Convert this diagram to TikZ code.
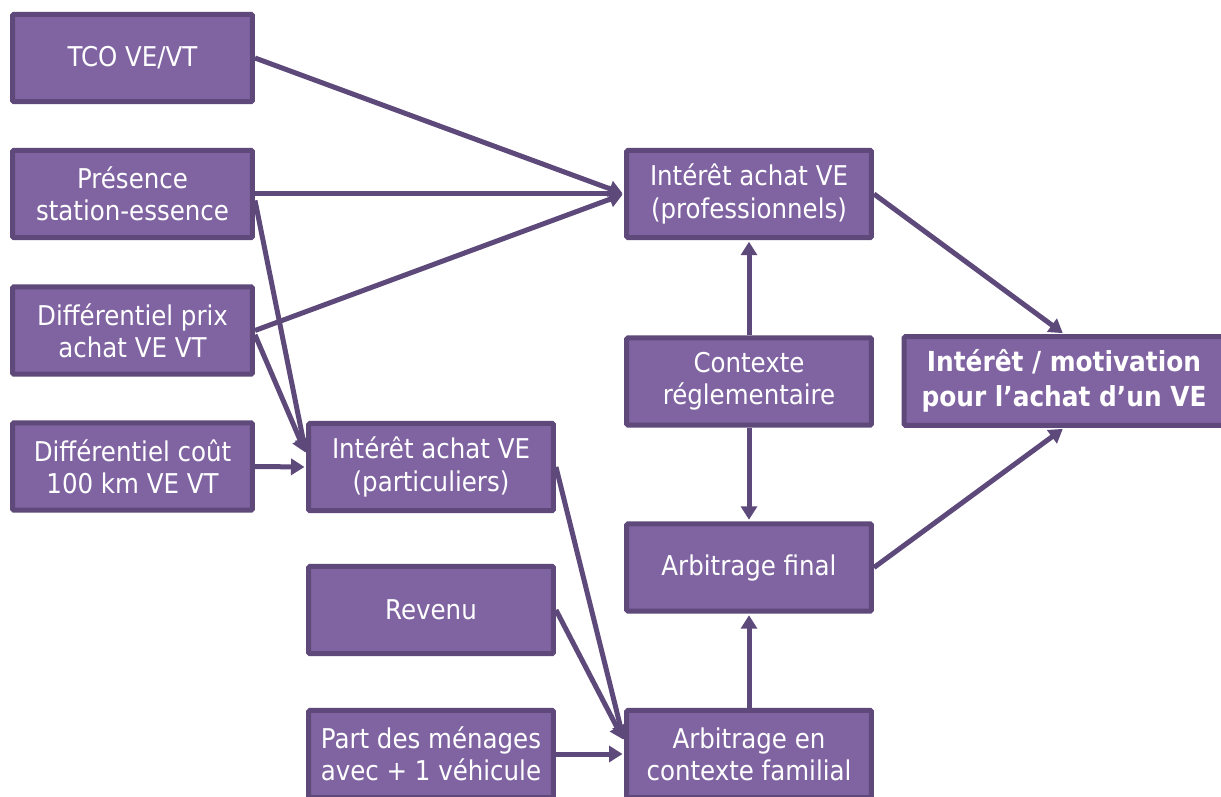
\documentclass[tikz,border=0pt]{standalone}
\usepackage{fontspec}
\setmainfont{DejaVu Sans Condensed}
\usetikzlibrary{arrows.meta}
\definecolor{fillc}{HTML}{8064A2}
\definecolor{bordc}{HTML}{5F497A}
\definecolor{linec}{HTML}{5E497B}
\tikzset{
  box/.style={draw=bordc, fill=fillc, line width=0.1cm, rounded corners=0.03cm,
    minimum width=4.8cm, minimum height=1.75cm, inner sep=0pt, align=center,
    text=white, font=\fontsize{15.5}{18.3}\selectfont},
  wbox/.style={box, minimum width=4.9cm},
  bigbox/.style={box, minimum width=6.4cm, minimum height=1.78cm,
    font=\fontsize{15.7}{20}\selectfont\bfseries},
  arr/.style={draw=linec, line width=0.1cm, shorten >=0.03cm,
    -{Triangle[length=0.27cm,width=0.32cm]}}
}
\begin{document}
\begin{tikzpicture}[x=0.02cm,y=-0.02cm]
\clip (0,0) rectangle (1221,797);
\fill[white] (0,0) rectangle (1221,797);
% left column
\node[box] (tco) at (132.5,58) {TCO VE/VT};
\node[box] (pres) at (132.5,194) {Présence\\station-essence};
\node[box] (prix) at (132.5,330.5) {Différentiel prix\\achat VE VT};
\node[box] (cout) at (132.5,466.5) {Différentiel coût\\100 km VE VT};
% middle column
\node[wbox] (part) at (431,467) {Intérêt achat VE\\(particuliers)};
\node[wbox] (rev) at (431,610) {Revenu};
\node[wbox] (men) at (431,754) {Part des ménages\\avec + 1 véhicule};
% right column
\node[wbox] (pro) at (749,194) {Intérêt achat VE\\(professionnels)};
\node[wbox] (ctx) at (749,381.5) {Contexte\\réglementaire};
\node[wbox] (fin) at (749,567.5) {Arbitrage final};
\node[wbox] (fam) at (749,754) {Arbitrage en\\contexte familial};
% final
\node[bigbox] (mot) at (1064,381) {Intérêt / motivation\\pour l’achat d’un VE};
% connectors
\draw[arr] (tco.east) -- (pro.west);
\draw[arr] (pres.east) -- (pro.west);
\draw[arr] (prix.east) -- (pro.west);
\draw[arr] (pres.-3) -- (part.174);
\draw[arr] (prix.-2) -- (part.174);
\draw[arr] (cout.east) -- (part.west);
\draw[arr] (part.east) -- (fam.174);
\draw[arr] (rev.east) -- (fam.174);
\draw[arr] (men.east) -- (fam.west);
\draw[arr] (fam.north) -- (fin.south);
\draw[arr] (ctx.north) -- (pro.south);
\draw[arr] (ctx.south) -- (fin.north);
\draw[arr] (pro.east) -- (mot.north);
\draw[arr] (fin.east) -- (mot.south);
\end{tikzpicture}
\end{document}
